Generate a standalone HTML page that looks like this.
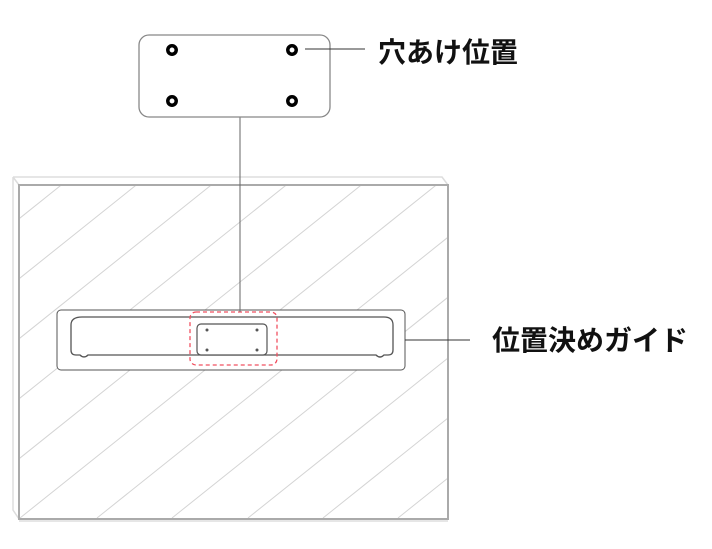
<!DOCTYPE html>
<html><head><meta charset="utf-8"><style>
body{margin:0;background:#fff;width:712px;height:544px;overflow:hidden}
.t{font-family:"Liberation Sans","Noto Sans CJK JP",sans-serif;font-weight:bold;font-size:28px;fill:#111}
</style></head><body>
<svg width="712" height="544" viewBox="0 0 712 544" xmlns="http://www.w3.org/2000/svg">
<defs><clipPath id="w"><rect x="19" y="185" width="429" height="334"/></clipPath></defs>
<path d="M13 177 L442 177 L448 185 M13 177 L19 185 M13 177 L13 510 L19 519 M19 521 L448 521" stroke="#ddd" stroke-width="1.5" fill="none"/>
<g clip-path="url(#w)" stroke="#d4d4d4" stroke-width="1">
<line x1="20" y1="518" x2="450" y2="174"/>
<line x1="-55" y1="518" x2="375" y2="174"/>
<line x1="-130" y1="518" x2="300" y2="174"/>
<line x1="-205" y1="518" x2="225" y2="174"/>
<line x1="-280" y1="518" x2="150" y2="174"/>
<line x1="-355" y1="518" x2="75" y2="174"/>
<line x1="97" y1="518" x2="527" y2="174"/>
<line x1="172" y1="518" x2="602" y2="174"/>
<line x1="248" y1="518" x2="678" y2="174"/>
<line x1="323" y1="518" x2="753" y2="174"/>
<line x1="398" y1="518" x2="828" y2="174"/>
</g>
<rect x="19" y="185" width="429" height="334" fill="none" stroke="#aaa" stroke-width="2"/>
<rect x="57" y="310" width="348" height="60" rx="4" fill="#fff" stroke="#555" stroke-width="1"/>
<path d="M82 317 L384 317 Q393 317 393 325 L393 350 Q393 355 388 355 L384 355 Q380 359 376 355 L88 355 Q84 359 80 355 L76 355 Q71 355 71 350 L71 325 Q71 317 82 317 Z" fill="none" stroke="#555" stroke-width="1.3"/>
<rect x="197" y="324" width="70" height="31" rx="4" fill="#fff" stroke="#555" stroke-width="1.2"/>
<g fill="#555"><circle cx="207" cy="330" r="1.5"/><circle cx="257" cy="330" r="1.5"/><circle cx="207" cy="350" r="1.5"/><circle cx="257" cy="350" r="1.5"/></g>
<rect x="190" y="312" width="87" height="53" rx="6" fill="none" stroke="#f05060" stroke-width="1.3" stroke-dasharray="4,3"/>
<line x1="405" y1="340" x2="470" y2="340" stroke="#333" stroke-width="1"/>
<line x1="240" y1="117" x2="240" y2="312" stroke="#666" stroke-width="1"/>
<rect x="139" y="35" width="191" height="82" rx="10" fill="#fff" stroke="#888" stroke-width="1.3"/>
<g fill="none" stroke="#000" stroke-width="3.5"><circle cx="172" cy="50" r="4.2"/><circle cx="292" cy="50" r="4.2"/><circle cx="172" cy="101" r="4.2"/><circle cx="292" cy="101" r="4.2"/></g>
<line x1="305" y1="49" x2="365" y2="49" stroke="#333" stroke-width="1"/>
<text class="t" x="378" y="62">穴あけ位置</text>
<text class="t" x="492" y="350">位置決めガイド</text>
</svg>
</body></html>
